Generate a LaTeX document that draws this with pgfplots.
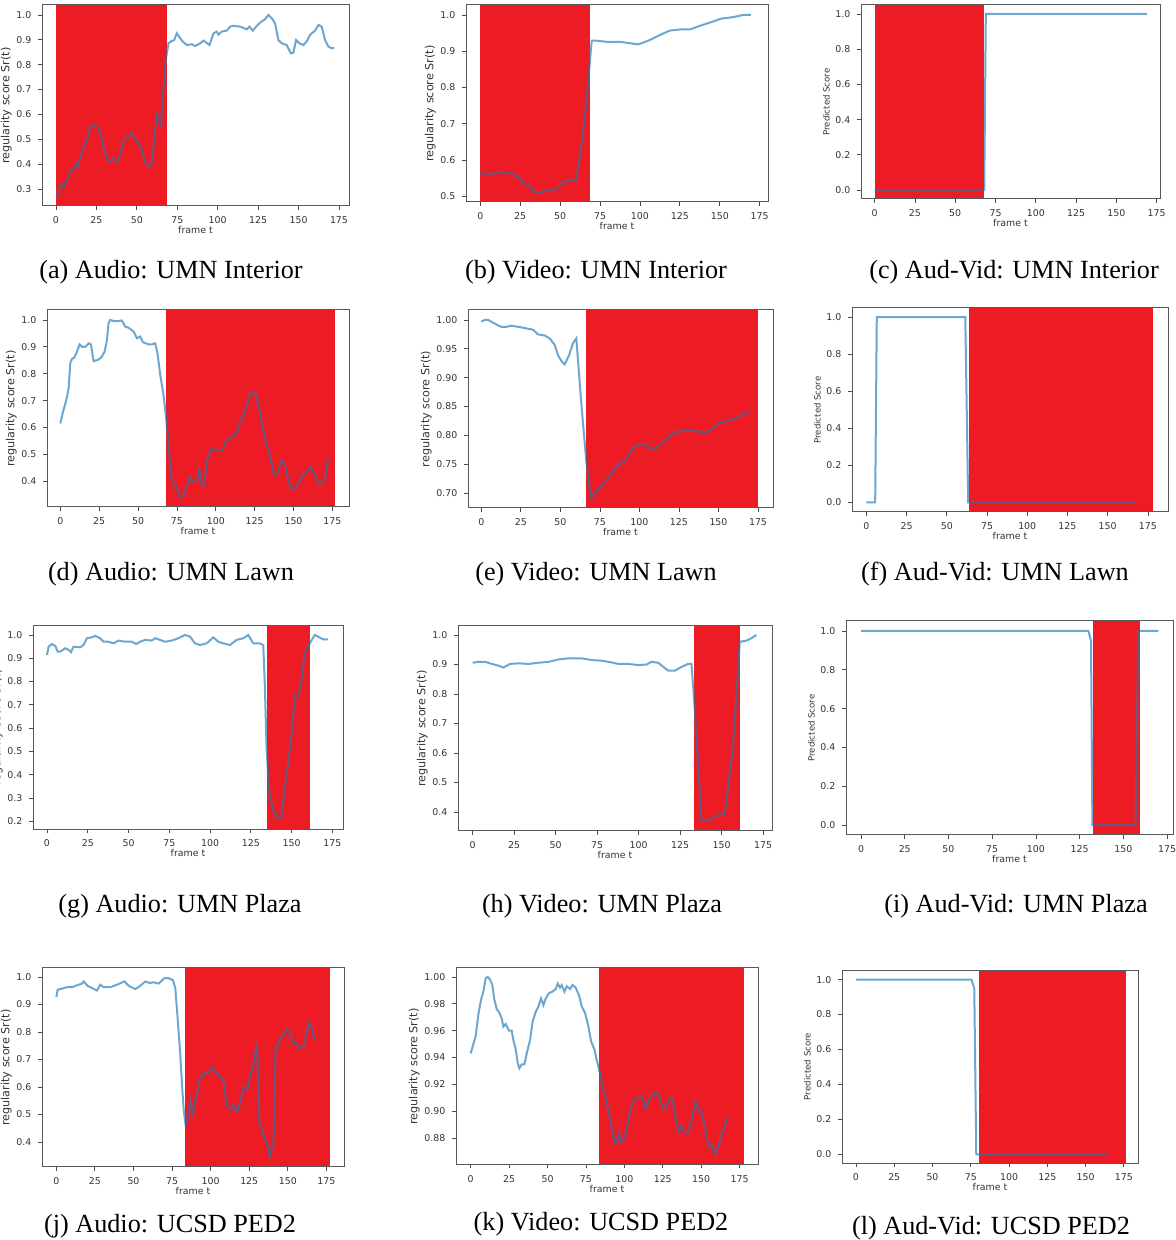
\documentclass[border=0pt]{standalone}
\usepackage{pgfplots}
\pgfplotsset{compat=1.18}
\usepackage{fontspec}
\setmainfont{Liberation Serif}
\newfontfamily\dejavu{DejaVu Sans}
\definecolor{redspan}{RGB}{237,28,36}
\definecolor{lineblue}{RGB}{31,119,180}
\newcommand\tf{\dejavu\fontsize{4.7}{5.5}\selectfont}
\newcommand\capf{\fontsize{13.1}{15}\selectfont}
\pgfplotsset{
  panel/.style={
    scale only axis, anchor=north west, axis on top,
    axis line style={black!65, line width=0.5pt},
    tick align=outside, major tick length=1.8pt,
    every tick/.style={black!70, line width=0.4pt},
    xtick pos=bottom, ytick pos=left,
    xtick={0,25,50,75,100,125,150,175},
    /pgf/number format/assume math mode=true,
    ticklabel style={font=\tf, text=black!80},
    xlabel={frame t},
    label style={font=\tf, text=black!80},
    xlabel style={yshift=5.5pt},
    scaled ticks=false,
    yticklabel style={/pgf/number format/.cd, fixed, fixed zerofill, precision=1},
  },
  reg/.style={ylabel={regularity score Sr(t)}, ylabel style={font=\dejavu\fontsize{5.6}{6}\selectfont, yshift=-4.5pt}},
  pred/.style={ylabel={Predicted Score}, ylabel style={font=\dejavu\fontsize{4.3}{5}\selectfont, yshift=-4pt}},
  span/.style={fill=redspan, draw=none, forget plot},
  sig/.style={lineblue, opacity=0.65, line width=1pt, mark=none},
}
\begin{document}
\begin{tikzpicture}
\useasboundingbox (0,0) rectangle (587.5pt,-620pt);
% (a)
\begin{axis}[panel, reg, at={(21pt,-2.5pt)}, width=153.5pt, height=100.5pt,
  xmin=-8.65, xmax=181.2, ymin=0.2316, ymax=1.040,
  ytick={0.3,0.4,0.5,0.6,0.7,0.8,0.9,1.0}]
\addplot[span] coordinates {(0,-5)(68.5,-5)(68.5,5)(0,5)} -- cycle;
\addplot[sig] coordinates {(0,0.27)(1.6,0.276)(2.7,0.316)(3.7,0.316)(5.1,0.31)(6.8,0.336)(8.9,0.37)(10.9,0.383)(12.6,0.40)(13.4,0.39)(15,0.43)(17.1,0.47)(19.6,0.504)(21.2,0.55)(23.7,0.557)(26.4,0.544)(28.4,0.497)(30.5,0.443)(32.5,0.41)(35.2,0.423)(37.7,0.41)(39.7,0.437)(41.8,0.497)(43.4,0.51)(44.9,0.51)(46.9,0.527)(49,0.497)(51.1,0.484)(53.1,0.457)(55.2,0.403)(57.9,0.39)(59.3,0.403)(60.7,0.497)(62.4,0.598)(64,0.578)(64.9,0.557)(65.9,0.658)(66.9,0.738)(67.9,0.819)(69.6,0.886)(71,0.893)(73.1,0.899)(74.7,0.926)(76.4,0.91)(78.4,0.893)(80.9,0.879)(84,0.882)(86.1,0.875)(89.2,0.886)(91.2,0.897)(92.9,0.889)(94.9,0.879)(97.4,0.926)(99.4,0.933)(100.5,0.92)(102.5,0.933)(105.6,0.937)(107.7,0.953)(109.7,0.956)(113.9,0.953)(118,0.942)(119.6,0.953)(121.7,0.937)(124.2,0.956)(126.2,0.969)(129.3,0.983)(131.4,1.0)(133.4,0.987)(135.5,0.966)(137.5,0.899)(139.6,0.886)(142.7,0.879)(145.2,0.846)(146.8,0.848)(148.5,0.899)(150.5,0.886)(153,0.879)(155,0.893)(157.1,0.92)(160.2,0.937)(162.3,0.96)(164.3,0.953)(166.4,0.899)(168.4,0.873)(170.5,0.866)(172.1,0.866)};
\end{axis}
% (b)
\begin{axis}[panel, reg, at={(233pt,-2.5pt)}, width=151pt, height=98.5pt,
  xmin=-8.96, xmax=180.2, ymin=0.4843, ymax=1.0276,
  ytick={0.5,0.6,0.7,0.8,0.9,1.0}]
\addplot[span] coordinates {(0,-5)(68.7,-5)(68.7,5)(0,5)} -- cycle;
\addplot[sig] coordinates {(0,0.567)(4.2,0.561)(9.4,0.563)(14.6,0.567)(19.8,0.561)(24,0.553)(27.1,0.537)(31.25,0.526)(34.4,0.51)(38.5,0.512)(42.7,0.518)(46.9,0.518)(50,0.53)(53.1,0.544)(56.25,0.546)(60,0.544)(63.5,0.645)(66.7,0.774)(69.8,0.929)(72.9,0.929)(79.2,0.926)(87.5,0.926)(93.75,0.922)(99,0.919)(106.25,0.931)(112.5,0.945)(118.75,0.957)(125,0.96)(131.25,0.96)(137.5,0.97)(143.75,0.979)(151,0.99)(158.3,0.994)(164.6,1.0)(169.5,1.0)};
\end{axis}
% (c)
\begin{axis}[panel, pred, at={(430.5pt,-2.5pt)}, width=149.5pt, height=97pt,
  xmin=-8.47, xmax=177.1, ymin=-0.051, ymax=1.051,
  ytick={0,0.2,0.4,0.6,0.8,1.0}]
\addplot[span] coordinates {(0,-5)(68,-5)(68,5)(0,5)} -- cycle;
\addplot[sig] coordinates {(0,0)(68,0)(69,1)(169,1)};
\end{axis}
% (d)
\begin{axis}[panel, reg, at={(23.5pt,-155pt)}, width=151pt, height=98.5pt,
  xmin=-8.57, xmax=185.7, ymin=0.3043, ymax=1.037,
  ytick={0.4,0.5,0.6,0.7,0.8,0.9,1.0}]
\addplot[span] coordinates {(67.7,-5)(176.5,-5)(176.5,5)(67.7,5)} -- cycle;
\addplot[sig] coordinates {(0,0.615)(1.7,0.658)(3.6,0.696)(5.35,0.745)(6.4,0.839)(7.5,0.855)(9,0.86)(10.7,0.882)(12.4,0.909)(13.9,0.90)(16,0.90)(18.2,0.913)(19.7,0.909)(21.4,0.847)(24,0.851)(26.3,0.86)(28.5,0.882)(30,0.925)(31,0.988)(32.1,1.0)(34.3,0.996)(37.5,0.996)(39.6,0.998)(41.8,0.975)(43.9,0.971)(47.1,0.957)(49.3,0.932)(51.4,0.938)(53.1,0.917)(56.8,0.909)(58.9,0.909)(61,0.913)(62.5,0.876)(64.3,0.795)(66.4,0.72)(68.1,0.634)(69.6,0.534)(71.1,0.422)(72.8,0.385)(75,0.379)(76.7,0.342)(79.2,0.348)(81.4,0.379)(83.1,0.416)(84.6,0.398)(87.8,0.404)(89.5,0.447)(91,0.385)(92.5,0.385)(94.2,0.472)(96.8,0.522)(99.6,0.516)(102.8,0.516)(104.5,0.516)(106.7,0.553)(109.2,0.559)(111.4,0.571)(113.5,0.578)(115.2,0.615)(117.4,0.634)(119.5,0.671)(122.1,0.727)(125.3,0.73)(128.5,0.658)(131.7,0.553)(134.5,0.509)(137.1,0.429)(139.2,0.422)(142.4,0.478)(144.6,0.46)(146.7,0.404)(148.9,0.369)(152.1,0.379)(155.3,0.422)(158.5,0.435)(161.1,0.453)(163.8,0.422)(166,0.391)(168.1,0.391)(170.3,0.41)(172.4,0.484)};
\end{axis}
% (e)
\begin{axis}[panel, reg, at={(234pt,-155pt)}, width=152.5pt, height=99pt,
  xmin=-8.43, xmax=184.5, ymin=0.674, ymax=1.0173,
  ytick={0.70,0.75,0.80,0.85,0.90,0.95,1.00},
  yticklabel style={/pgf/number format/.cd, fixed, fixed zerofill, precision=2}]
\addplot[span] coordinates {(66.4,-5)(175,-5)(175,5)(66.4,5)} -- cycle;
\addplot[sig] coordinates {(0,0.997)(2.1,1.0)(4.2,1.0)(6.3,0.997)(9.5,0.992)(12.7,0.988)(15.8,0.988)(19,0.99)(23.2,0.988)(27.4,0.986)(32.7,0.983)(35.8,0.975)(40.1,0.973)(43.2,0.968)(46.4,0.957)(48.5,0.939)(50.6,0.929)(52.7,0.923)(55.5,0.939)(58,0.96)(60.1,0.968)(63.3,0.853)(66.4,0.755)(69.6,0.691)(72.7,0.703)(75.9,0.711)(80.1,0.726)(84.3,0.742)(87.5,0.75)(91.7,0.758)(95.9,0.778)(100.1,0.785)(103.3,0.784)(106.5,0.777)(110.7,0.778)(114.9,0.788)(119.1,0.798)(122.3,0.806)(127.6,0.807)(131.8,0.808)(136,0.807)(142.3,0.805)(146.5,0.813)(150.7,0.821)(155,0.825)(159.2,0.827)(163.4,0.833)(167.6,0.838)(169.3,0.842)};
\end{axis}
% (f)
\begin{axis}[panel, pred, at={(426pt,-154pt)}, width=158pt, height=102pt,
  xmin=-8.9, xmax=187.5, ymin=-0.052, ymax=1.05,
  ytick={0,0.2,0.4,0.6,0.8,1.0}]
\addplot[span] coordinates {(64,-5)(178,-5)(178,5)(64,5)} -- cycle;
\addplot[sig] coordinates {(0,0)(5.5,0)(6.5,1)(61.5,1)(63.3,0)(167,0)};
\end{axis}
% (g)
\begin{axis}[panel, reg, at={(16.5pt,-313pt)}, width=155pt, height=101.5pt,
  xmin=-8.57, xmax=181.5, ymin=0.167, ymax=1.0386,
  ytick={0.2,0.3,0.4,0.5,0.6,0.7,0.8,0.9,1.0}]
\addplot[span] coordinates {(135,-5)(161.5,-5)(161.5,5)(135,5)} -- cycle;
\addplot[sig] coordinates {(0,0.914)(1,0.95)(3.1,0.961)(5.1,0.953)(6.5,0.929)(8.2,0.929)(11.2,0.943)(13.3,0.936)(14.7,0.926)(16.3,0.95)(20.4,0.947)(22.4,0.957)(24.5,0.986)(27.5,0.99)(29.6,0.996)(32.6,0.986)(34.7,0.971)(37.7,0.971)(40.8,0.964)(43.9,0.976)(47.9,0.971)(52,0.971)(54.7,0.961)(57.1,0.971)(60.2,0.979)(64.2,0.976)(66.3,0.986)(69.3,0.979)(72.4,0.971)(76.5,0.976)(80.6,0.986)(84.6,1.0)(87.7,0.993)(90.8,0.964)(93.8,0.957)(97.9,0.964)(102,0.99)(105,0.971)(108.1,0.964)(112.2,0.957)(116.3,0.979)(120.3,0.986)(123.4,1.0)(126.5,0.964)(130.5,0.964)(132.6,0.957)(133.6,0.779)(134.6,0.521)(136.2,0.321)(138.7,0.25)(141.1,0.214)(143.8,0.221)(145.8,0.35)(147.9,0.45)(150.5,0.607)(151.9,0.733)(154,0.733)(156,0.807)(158.1,0.921)(161.1,0.964)(164.2,1.0)(166.2,0.993)(169.3,0.981)(172.3,0.981)};
\end{axis}
% (h)
\begin{axis}[panel, reg, at={(229pt,-313pt)}, width=157pt, height=102.5pt,
  xmin=-8.8, xmax=180.4, ymin=0.3355, ymax=1.0306,
  ytick={0.4,0.5,0.6,0.7,0.8,0.9,1.0}]
\addplot[span] coordinates {(133.5,-5)(161.4,-5)(161.4,5)(133.5,5)} -- cycle;
\addplot[sig] coordinates {(0,0.906)(3.6,0.909)(7.6,0.909)(11.6,0.902)(15.6,0.896)(18.6,0.89)(22.6,0.902)(27.7,0.904)(33.7,0.902)(39.7,0.906)(45.7,0.909)(51.7,0.917)(57.7,0.921)(65.7,0.921)(71.8,0.915)(77.8,0.913)(83.8,0.907)(87.8,0.902)(93.8,0.902)(99.8,0.898)(104.8,0.9)(107.8,0.909)(111.8,0.906)(114.9,0.892)(117.9,0.879)(121.9,0.879)(125.9,0.892)(129.9,0.902)(131.9,0.902)(133.9,0.745)(137.9,0.372)(141.9,0.372)(147.9,0.389)(151.9,0.394)(156.9,0.621)(161,0.977)(165,0.981)(168,0.989)(171,1.0)};
\end{axis}
% (i)
\begin{axis}[panel, pred, at={(423pt,-310.5pt)}, width=163.5pt, height=107pt,
  xmin=-8.58, xmax=178.4, ymin=-0.0515, ymax=1.0515,
  ytick={0,0.2,0.4,0.6,0.8,1.0}]
\addplot[span] coordinates {(132.5,-5)(159.7,-5)(159.7,5)(132.5,5)} -- cycle;
\addplot[sig] coordinates {(0,1)(130,1)(131.5,0.95)(132.3,0)(157,0)(158.5,1)(170,1)};
\end{axis}
% (j)
\begin{axis}[panel, reg, at={(21pt,-484pt)}, width=151pt, height=99.5pt,
  xmin=-9.27, xmax=186.4, ymin=0.3087, ymax=1.0329,
  ytick={0.4,0.5,0.6,0.7,0.8,0.9,1.0}]
\addplot[span] coordinates {(83.6,-5)(177.6,-5)(177.6,5)(83.6,5)} -- cycle;
\addplot[sig] coordinates {(0,0.927)(0.9,0.954)(2.6,0.956)(6.9,0.963)(10.2,0.963)(13.4,0.97)(16.6,0.976)(17.7,0.984)(20.3,0.968)(26.3,0.951)(28.5,0.972)(30.7,0.963)(35,0.963)(39.3,0.972)(44.1,0.984)(46.9,0.968)(51.2,0.956)(54.4,0.968)(57.7,0.984)(60.5,0.978)(63.1,0.981)(66.3,0.976)(70,0.996)(72.8,0.996)(75.6,0.988)(77.1,0.96)(78.6,0.85)(80.3,0.72)(81.4,0.61)(82.5,0.52)(83.8,0.46)(85.3,0.49)(86.8,0.55)(88.3,0.505)(90.7,0.56)(92.9,0.63)(95.9,0.65)(98.7,0.65)(100.9,0.675)(103.7,0.65)(106.3,0.635)(108.4,0.62)(110.6,0.53)(112.7,0.52)(114.9,0.535)(117.1,0.51)(119.2,0.545)(121.4,0.6)(123.5,0.59)(125.7,0.64)(128.3,0.7)(130,0.76)(131.7,0.46)(133.3,0.45)(134.8,0.41)(136.5,0.40)(138.2,0.345)(139.7,0.38)(140.8,0.40)(142.1,0.75)(144.1,0.75)(145.1,0.78)(147.3,0.79)(149.5,0.81)(151.2,0.80)(153.3,0.76)(155.5,0.76)(157,0.74)(160.3,0.75)(162,0.79)(163.5,0.835)(165.7,0.815)(167.4,0.77)};
\end{axis}
% (k)
\begin{axis}[panel, reg, at={(228pt,-484pt)}, width=151pt, height=98.5pt,
  xmin=-9.55, xmax=187, ymin=0.8601, ymax=1.0067,
  ytick={0.88,0.90,0.92,0.94,0.96,0.98,1.00},
  yticklabel style={/pgf/number format/.cd, fixed, fixed zerofill, precision=2}]
\addplot[span] coordinates {(83.6,-5)(177.6,-5)(177.6,5)(83.6,5)} -- cycle;
\addplot[sig] coordinates {(0,0.943)(1.74,0.95)(3.26,0.956)(4.99,0.972)(6.73,0.983)(8.25,0.989)(9.77,0.999)(11.07,1.0)(12.59,0.998)(14.11,0.994)(15.41,0.983)(16.93,0.976)(18.45,0.974)(20.19,0.969)(21.28,0.963)(22.8,0.965)(24.97,0.96)(26.7,0.96)(27.79,0.953)(29.31,0.946)(30.61,0.936)(31.7,0.932)(33.22,0.935)(34.96,0.935)(36.47,0.943)(38.64,0.953)(40.38,0.967)(42.34,0.974)(44.07,0.978)(45.81,0.984)(47.33,0.979)(48.85,0.984)(51.02,0.988)(53.19,0.989)(55.36,0.991)(56.67,0.995)(58.18,0.992)(59.27,0.994)(61.01,0.989)(62.53,0.993)(64.7,0.991)(66.22,0.994)(68.39,0.992)(70.56,0.986)(72.3,0.978)(74.47,0.973)(76.64,0.963)(78.38,0.952)(80.55,0.946)(82.07,0.938)(84.24,0.928)(86.41,0.916)(88.58,0.906)(90.75,0.894)(93.57,0.876)(95.09,0.877)(96.61,0.884)(97.92,0.877)(100.09,0.88)(102.26,0.891)(104.86,0.905)(107.03,0.909)(109.2,0.91)(111.38,0.911)(113.98,0.902)(116.15,0.909)(118.32,0.912)(120.5,0.914)(122.67,0.912)(124.84,0.902)(127.01,0.902)(129.18,0.909)(131.35,0.91)(133.52,0.894)(135.26,0.885)(137,0.889)(139.17,0.884)(141.77,0.885)(143.94,0.894)(146.11,0.907)(148.29,0.901)(150.02,0.901)(152.19,0.889)(154.8,0.874)(156.97,0.875)(159.14,0.868)(161.31,0.874)(163.48,0.884)(165.22,0.887)(166.74,0.896)};
\end{axis}
% (l)
\begin{axis}[panel, pred, at={(421pt,-485pt)}, width=148pt, height=96.5pt,
  xmin=-9.13, xmax=184.3, ymin=-0.0495, ymax=1.055,
  ytick={0,0.2,0.4,0.6,0.8,1.0}]
\addplot[span] coordinates {(80.7,-5)(176.5,-5)(176.5,5)(80.7,5)} -- cycle;
\addplot[sig] coordinates {(0,1)(75.5,1)(77.3,0.95)(78.6,0)(164,0)};
\end{axis}
% captions
\node[font=\capf, anchor=base] at (85.5pt,-139.5pt) {(a) Audio: UMN Interior};
\node[font=\capf, anchor=base] at (298pt,-139.5pt) {(b) Video: UMN Interior};
\node[font=\capf, anchor=base] at (507pt,-139.5pt) {(c) Aud-Vid: UMN Interior};
\node[font=\capf, anchor=base] at (85.5pt,-290pt) {(d) Audio: UMN Lawn};
\node[font=\capf, anchor=base] at (298pt,-290pt) {(e) Video: UMN Lawn};
\node[font=\capf, anchor=base] at (497.5pt,-290pt) {(f) Aud-Vid: UMN Lawn};
\node[font=\capf, anchor=base] at (90pt,-456pt) {(g) Audio: UMN Plaza};
\node[font=\capf, anchor=base] at (301pt,-456pt) {(h) Video: UMN Plaza};
\node[font=\capf, anchor=base] at (508pt,-456pt) {(i) Aud-Vid: UMN Plaza};
\node[font=\capf, anchor=base] at (85pt,-616pt) {(j) Audio: UCSD PED2};
\node[font=\capf, anchor=base] at (300.5pt,-615pt) {(k) Video: UCSD PED2};
\node[font=\capf, anchor=base] at (495.5pt,-617pt) {(l) Aud-Vid: UCSD PED2};
\end{tikzpicture}
\end{document}
